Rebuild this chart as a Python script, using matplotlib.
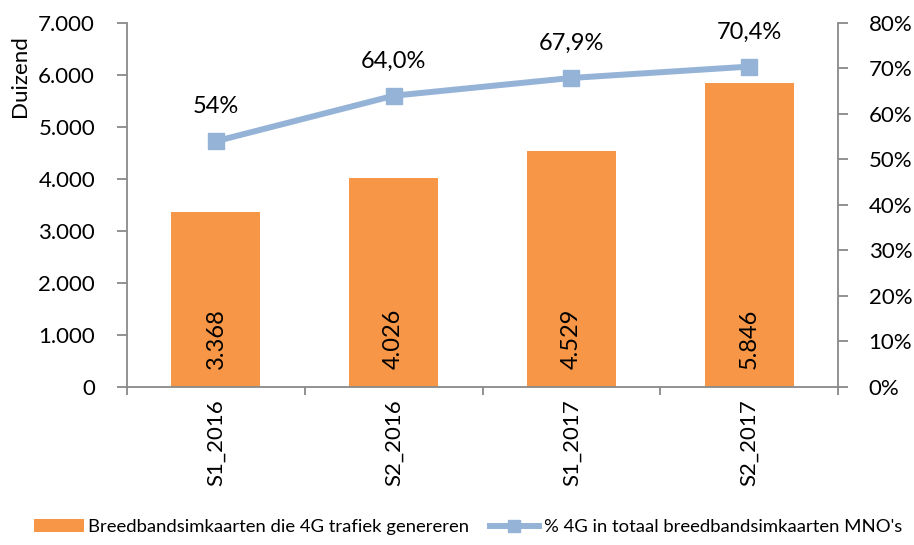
import matplotlib
matplotlib.use("Agg")
import matplotlib.pyplot as plt
from matplotlib.ticker import FuncFormatter, FixedLocator
from matplotlib.lines import Line2D
from matplotlib.patches import Patch

# Data
periods = ["S1_2016", "S2_2016", "S1_2017", "S2_2017"]
sim_cards_thousands = [3368, 4026, 4529, 5846]
share_4g_pct = [54.0, 64.0, 67.9, 70.4]
share_labels = ["54%", "64,0%", "67,9%", "70,4%"]
bar_labels = ["3.368", "4.026", "4.529", "5.846"]

bar_color = "#F79646"
line_color = "#95B3D7"
axis_color = "#898989"

plt.rcParams['font.family'] = ['Lato', 'DejaVu Sans']

fig = plt.figure(figsize=(9.14, 5.45), dpi=100)
ax = fig.add_axes([0.139, 0.290, 0.778, 0.668])
ax2 = ax.twinx()

x = list(range(len(periods)))
ax.bar(x, sim_cards_thousands, width=0.5, color=bar_color, zorder=2)
ax.set_xlim(-0.5, len(periods) - 0.5)
ax.set_ylim(0, 7000)
ax.set_yticks(range(0, 7001, 1000))
ax.yaxis.set_major_formatter(FuncFormatter(lambda v, p: f"{int(v):,}".replace(",", ".")))
fig.text(20 / 914, 1 - 76 / 545, "Duizend", rotation=90, ha="center", va="center",
         fontsize=16)

# Bar value labels, rotated, near the base of each bar
for xi, lab in zip(x, bar_labels):
    ax.text(xi, 920, lab, rotation=90, ha="center", va="center", fontsize=17, zorder=3)

ax2.plot(x, share_4g_pct, color=line_color, lw=4.3, marker="s", markersize=12,
         zorder=4)
ax2.set_ylim(0, 80)
ax2.set_yticks(range(0, 81, 10))
ax2.yaxis.set_major_formatter(FuncFormatter(lambda v, p: f"{int(v)}%"))
for xi, v, lab in zip(x, share_4g_pct, share_labels):
    ax2.annotate(lab, (xi, v), xytext=(0, 25), textcoords="offset points",
                 ha="center", va="center", fontsize=17)

# Category axis: labels at centres, ticks at boundaries
ax.set_xticks(x)
ax.set_xticklabels(periods, rotation=90, fontsize=16)
ax.tick_params(axis="x", which="major", length=0, pad=9)
ax.xaxis.set_minor_locator(FixedLocator([-0.5, 0.5, 1.5, 2.5, 3.5]))
ax.tick_params(axis="x", which="minor", length=6, color=axis_color, width=1.3)

for a in (ax, ax2):
    for s in a.spines.values():
        s.set_visible(False)
ax.spines["left"].set_visible(True)
ax.spines["bottom"].set_visible(True)
ax2.spines["right"].set_visible(True)
for s in (ax.spines["left"], ax.spines["bottom"], ax2.spines["right"]):
    s.set_color(axis_color)
    s.set_linewidth(1.3)

ax.tick_params(axis="y", labelsize=16, length=7, color=axis_color, width=1.3, pad=16)
ax2.tick_params(axis="y", labelsize=16, length=7, color=axis_color, width=1.3, pad=15)

handles = [
    Patch(facecolor=bar_color, edgecolor="none"),
    Line2D([0], [0], color=line_color, lw=4.3, marker="s", markersize=9),
]
fig.legend(handles, ["Breedbandsimkaarten die 4G trafiek genereren",
                     "% 4G in totaal breedbandsimkaarten MNO's"],
           loc="center", bbox_to_anchor=(0.512, 1 - 527 / 545), ncol=2, frameon=False,
           fontsize=13.3, handlelength=2.7, columnspacing=1.1, handletextpad=0.25)

fig.savefig("out.png", dpi=100)
